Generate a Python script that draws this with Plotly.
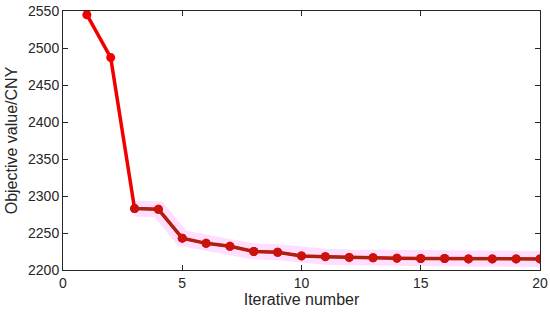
import plotly.graph_objects as go

# iteration history
iterations = list(range(1, 21))
objective = [2545, 2487, 2283, 2282, 2243, 2236, 2232, 2225, 2224, 2219,
             2218, 2217, 2216.5, 2216, 2215.5, 2215.5, 2215, 2215, 2215, 2215]

x_ticks = [0, 5, 10, 15, 20]
y_ticks = [2200, 2250, 2300, 2350, 2400, 2450, 2500, 2550]

tail_x = iterations[2:]
tail_y = objective[2:]

FONT = "Liberation Sans, Arial"
INK = "#262626"

fig = go.Figure()

# faint magenta halo under the converged part
fig.add_trace(go.Scatter(
    x=tail_x, y=tail_y, mode="lines",
    line=dict(color="rgba(255,0,255,0.13)", width=16),
    hoverinfo="skip", showlegend=False,
))
fig.add_trace(go.Scatter(
    x=iterations, y=objective, mode="lines+markers",
    line=dict(color="#f20000", width=3.5),
    marker=dict(color="#f20000", size=9),
    showlegend=False,
))
fig.add_trace(go.Scatter(
    x=tail_x, y=tail_y, mode="lines+markers",
    line=dict(color="#9a2a10", width=2.5),
    marker=dict(color="#c8140a", size=9),
    showlegend=False,
))

axis_common = dict(
    showgrid=False, zeroline=False, automargin=False,
    showline=True, linecolor=INK, linewidth=1, mirror="ticks",
    ticks="inside", ticklen=5, tickcolor=INK, ticklabeloverflow="allow",
    tickfont=dict(family=FONT, size=14, color=INK),
)

fig.update_layout(
    width=550, height=318,
    paper_bgcolor="white", plot_bgcolor="white",
    margin=dict(l=63, r=10, t=11, b=48),
    xaxis=dict(**axis_common, range=[0, 20], tickvals=x_ticks,
               title=dict(text="Iterative number", standoff=2,
                          font=dict(family=FONT, size=16, color=INK))),
    yaxis=dict(**axis_common, range=[2200, 2550], tickvals=y_ticks,
               title=dict(text="Objective value/CNY", standoff=6,
                          font=dict(family=FONT, size=16, color=INK))),
)

# drop the default 8px body margin so the figure fills the window
fig.write_html("out.html", config={"displayModeBar": False},
               post_script="document.body.style.margin='0';")
